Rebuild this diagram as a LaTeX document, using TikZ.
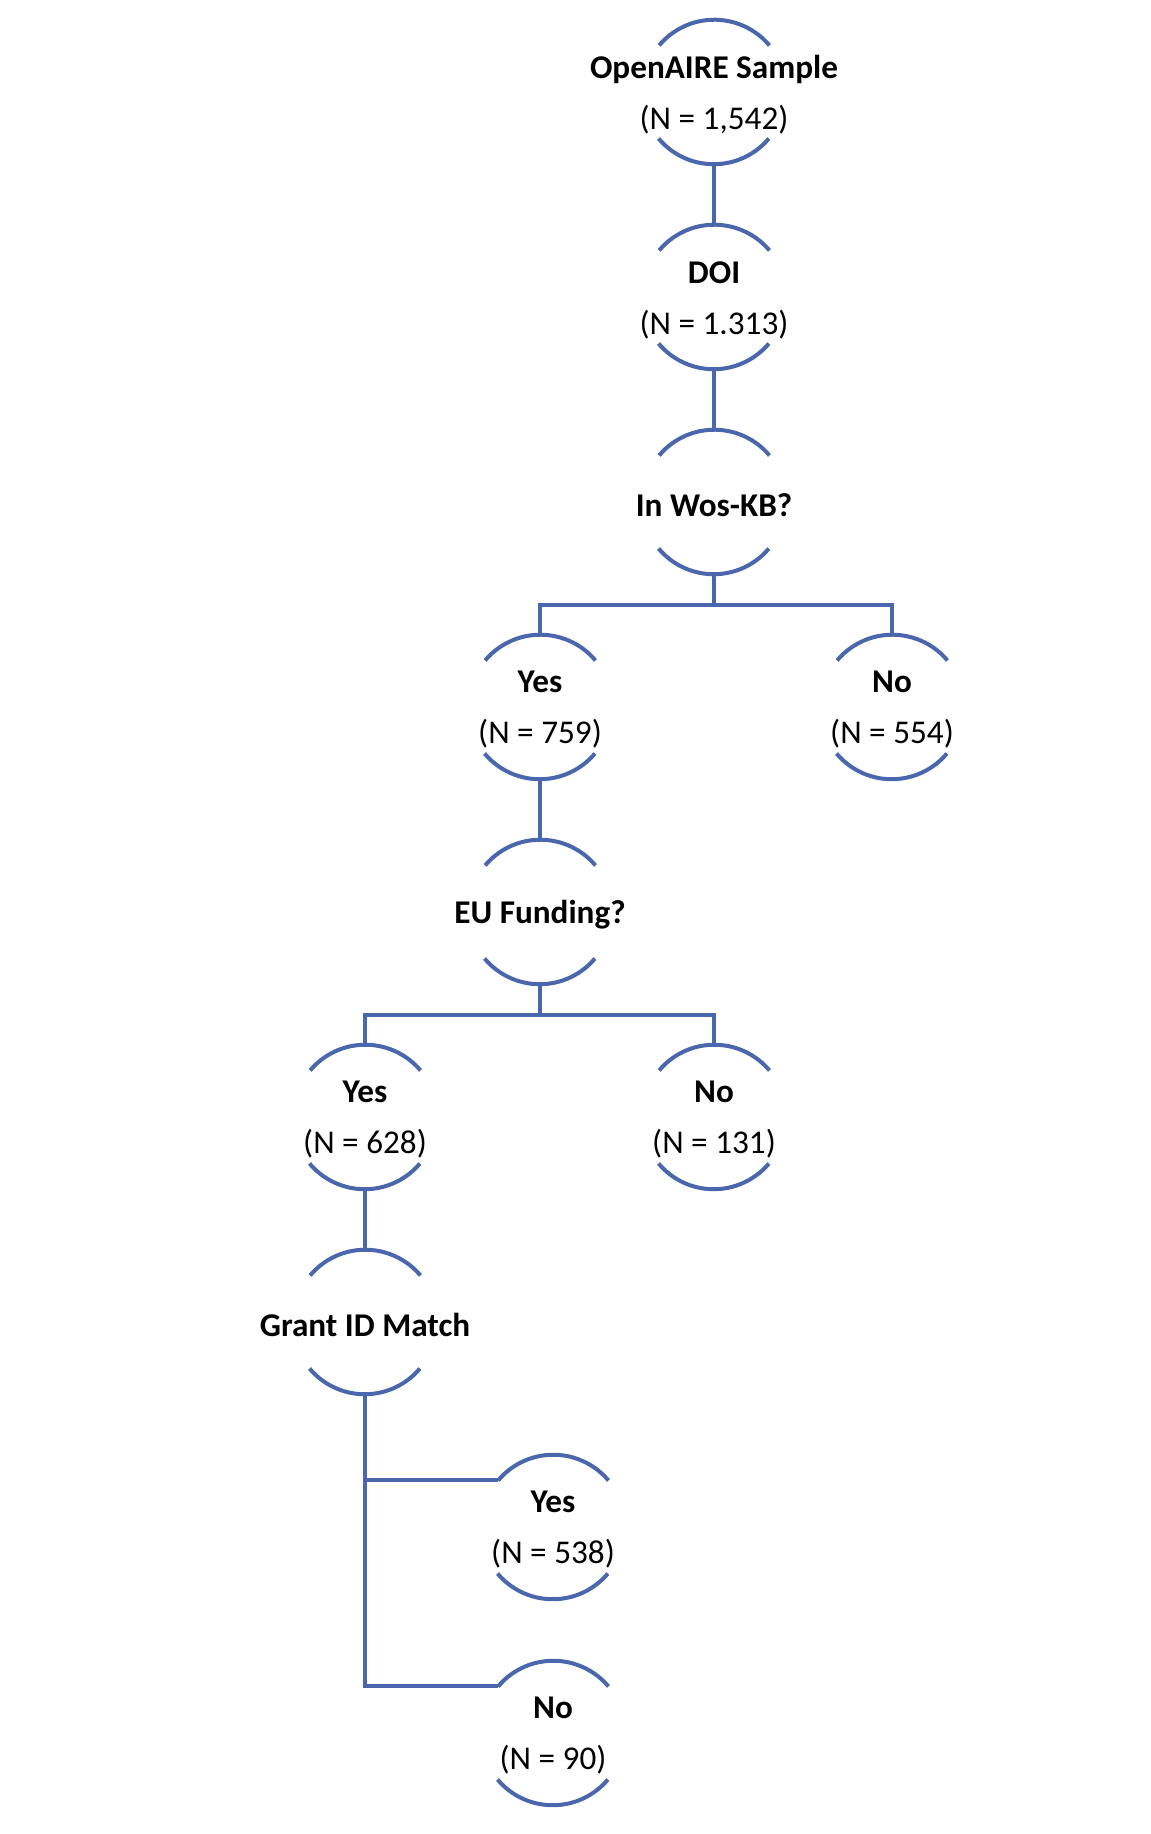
\documentclass[tikz,border=0pt]{standalone}
\usepackage{fontspec}
\setmainfont{Carlito}
\usepackage{xcolor}
\usetikzlibrary{calc}
\definecolor{text}{HTML}{000000}
\definecolor{line}{HTML}{4A66AC}
\tikzset{
  lab/.style={text=text, font=\fontsize{16.6}{25.5}\selectfont, align=center, yshift=-1.5pt},
  gate/.style={circle, minimum size=72pt, inner sep=0pt},
  shapeLine/.style={line width=2pt, draw=line}
}
\newcommand{\hd}[1]{\textbf{#1}}

\begin{document}
\begin{tikzpicture}[x=0.5pt,y=0.5pt]
\useasboundingbox (0,0) rectangle (1150,1834);
% main column
\node[gate, label={[lab]center:{\hd{OpenAIRE Sample}\\(N = 1,542)}}] (sample) at (714,1742) {};
\node[gate, label={[lab]center:{\hd{DOI}\\(N = 1.313)}}] (doi) at (714,1537) {};
\node[gate, label={[lab]center:{\hd{In Wos-KB?}}}] (wos) at (714,1332) {};
\node[gate, label={[lab]center:{\hd{Yes}\\(N = 759)}}] (wosyes) at (540,1127) {};
\node[gate, label={[lab]center:{\hd{No}\\(N = 554)}}] (wosno) at (892,1127) {};
\node[gate, label={[lab]center:{\hd{EU Funding?}}}] (eu) at (540,922) {};
\node[gate, label={[lab]center:{\hd{Yes}\\(N = 628)}}] (euyes) at (365,717) {};
\node[gate, label={[lab]center:{\hd{No}\\(N = 131)}}] (euno) at (714,717) {};
\node[gate, label={[lab]center:{\hd{Grant ID Match}}}] (grant) at (365,512) {};
\node[gate, label={[lab]center:{\hd{Yes}\\(N = 538)}}] (grantyes) at (553,307) {};
\node[gate, label={[lab]center:{\hd{No}\\(N = 90)}}] (grantno) at (553,101) {};

% open circles: top and bottom arcs only
\foreach \n in {sample,doi,wos,wosyes,wosno,eu,euyes,euno,grant,grantyes,grantno}{
  \draw[shapeLine] (\n.40) arc[start angle=40, end angle=140, radius=72];
  \draw[shapeLine] (\n.220) arc[start angle=220, end angle=320, radius=72];
}

% connectors
\draw[shapeLine] (sample.south) -- (doi.north);
\draw[shapeLine] (doi.south) -- (wos.north);
\draw[shapeLine] (wos.south) -- ++(0,-31) -| (wosyes.north);
\draw[shapeLine] (wos.south) -- ++(0,-31) -| (wosno.north);
\draw[shapeLine] (wosyes.south) -- (eu.north);
\draw[shapeLine] (eu.south) -- ++(0,-31) -| (euyes.north);
\draw[shapeLine] (eu.south) -- ++(0,-31) -| (euno.north);
\draw[shapeLine] (euyes.south) -- (grant.north);
\draw[shapeLine] (grant.south) |- (grantyes.140);
\draw[shapeLine] (grant.south) |- (grantno.140);
\end{tikzpicture}
\end{document}
